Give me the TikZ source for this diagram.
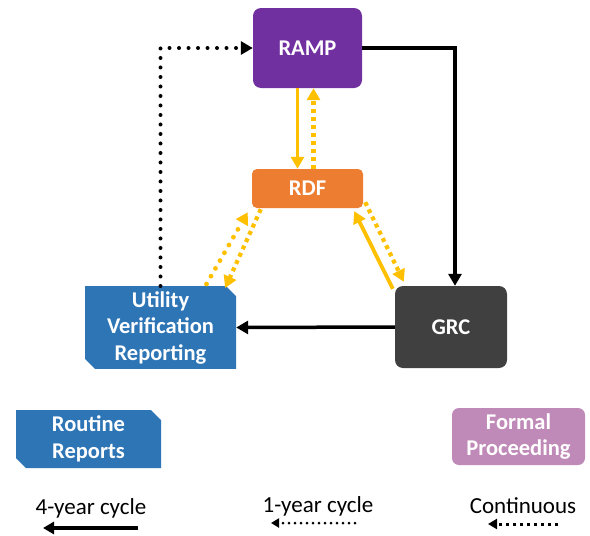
\documentclass[tikz,border=0pt]{standalone}
\usepackage{fontspec}
\setmainfont{Carlito}
\usetikzlibrary{arrows.meta,shapes.misc,calc}
\definecolor{rampc}{HTML}{7030A0}
\definecolor{rdfc}{HTML}{ED7D31}
\definecolor{grcc}{HTML}{404040}
\definecolor{bluec}{HTML}{2E75B6}
\definecolor{formc}{HTML}{C08AB8}
\definecolor{yel}{HTML}{FFC000}
\tikzset{
  box/.style={draw=none, text=white, font=\fontsize{22.5}{26.5}\selectfont\bfseries, align=center, inner sep=0pt},
  rbox/.style={box, rounded corners=8pt},
  cbox/.style={box, chamfered rectangle, chamfered rectangle corners={north east,south west}, chamfered rectangle xsep=5pt, chamfered rectangle ysep=5pt},
  blk/.style={line width=3.5pt, -{Triangle[length=12pt,width=13pt]}},
  blkdot/.style={line width=4pt, line cap=round, dash pattern=on 0pt off 9.5pt, -{Triangle[length=12pt,width=13pt]}},
  ysol/.style={yel, line width=3.8pt, -{Triangle[length=12pt,width=13pt]}},
  ysq/.style={yel, line width=4.2pt, dash pattern=on 4pt off 4pt, -{Triangle[length=12pt,width=13pt]}},
  yrd/.style={yel, line width=4.8pt, line cap=round, dash pattern=on 0pt off 9pt, -{Triangle[length=12pt,width=13pt]}},
  lgtext/.style={font=\fontsize{23}{27}\selectfont, inner sep=0pt},
}
\begin{document}
\begin{tikzpicture}[x=1pt,y=-1pt]
\useasboundingbox[fill=white] (0,0) rectangle (590,536);
% nodes
\node[rbox, fill=rampc, minimum width=109pt, minimum height=80pt] (ramp) at (307.5,48) {RAMP};
\node[rbox, fill=rdfc, minimum width=111pt, minimum height=39pt, rounded corners=5pt] (rdf) at (307.5,188.5) {RDF};
\node[rbox, fill=grcc, minimum width=112pt, minimum height=82pt] (grc) at (451,327) {GRC};
\node[cbox, fill=bluec, minimum width=151pt, minimum height=81pt] (uvr) at (160.5,327.5) {Utility\\Verification\\Reporting};
\node[cbox, fill=bluec, minimum width=145pt, minimum height=58pt] (rr) at (88.5,439) {Routine\\Reports};
\node[rbox, fill=formc, minimum width=133pt, minimum height=57pt, rounded corners=7pt] (fp) at (518.5,436.5) {Formal\\Proceeding};
% black connectors
\draw[blk] (ramp.east) -| ([xshift=4pt]grc.north);
\draw[blk] (grc.west) -- (uvr.east);
\draw[blkdot] (uvr.north) |- (ramp.west);
% yellow connectors
\draw[ysol] ([xshift=-10pt]ramp.south) -- ([xshift=-10pt]rdf.north);
\draw[ysq] ([xshift=6pt]rdf.north) -- ([xshift=6pt]ramp.south);
\draw[yrd] ($(uvr.north)+(46,-2)$) -- ($(rdf.south west)+(-4,4)$);
\draw[ysq] ($(rdf.south west)+(9,1)$) -- ($(uvr.north east)+(-6,-3)$);
\draw[ysol] ($(grc.north west)+(-2,3)$) -- ($(rdf.south east)+(-9,3)$);
\draw[ysq] ($(rdf.south east)+(2,-6)$) -- ($(grc.north west)+(9,-4)$);
% legend
\node[lgtext, anchor=base] (l4) at (91,514) {4-year cycle};
\node[lgtext, anchor=base] (l1) at (318,512) {1-year cycle};
\node[lgtext, anchor=base] (lc) at (523,513) {Continuous};
\coordinate (a4s) at (138,528); \coordinate (a4e) at (43,528);
\coordinate (a1s) at (355,523); \coordinate (a1e) at (271,523);
\coordinate (acs) at (558,524); \coordinate (ace) at (488,524);
\draw[line width=3.5pt, -{Triangle[length=11pt,width=12pt]}] (a4s) -- (a4e);
\draw[line width=3pt, line cap=round, dash pattern=on 0pt off 6pt, -{Triangle[length=8pt,width=9pt]}] (a1s) -- (a1e);
\draw[line width=3pt, dash pattern=on 3.5pt off 3.5pt, -{Triangle[length=9pt,width=10pt]}] (acs) -- (ace);
\end{tikzpicture}
\end{document}
